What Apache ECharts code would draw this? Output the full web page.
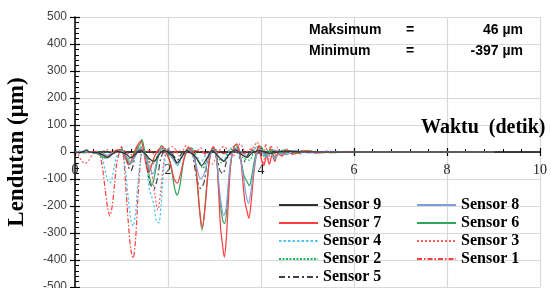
<!DOCTYPE html>
<html><head><meta charset="utf-8">
<script src="https://cdn.jsdelivr.net/npm/echarts@6/dist/echarts.min.js"></script>
<style>html,body{margin:0;padding:0;background:#fff}#c{width:551px;height:288px}</style>
</head><body><div id="c"></div>
<script>
// ---- data (time in s, deflection in µm) ----
const xTickValues = [0, 2, 4, 6, 8, 10];
const yTickValues = [-500, -400, -300, -200, -100, 0, 100, 200, 300, 400, 500];
const statLabels = ['Maksimum', 'Minimum'];
const statValues = ['46 µm', '-397 µm'];
const legendOrder = ['Sensor 9', 'Sensor 8', 'Sensor 7', 'Sensor 6', 'Sensor 4', 'Sensor 3', 'Sensor 2', 'Sensor 1', 'Sensor 5'];

const sensor1 = [[0,0],[0.1,-3],[0.2,2],[0.3,-2],[0.4,1],[0.5,-4],[0.55,-20],[0.6,-70],[0.65,-140],[0.7,-205],[0.75,-237],[0.8,-200],[0.85,-120],[0.9,-40],[0.95,-5],[1.0,20],[1.05,-30],[1.1,-150],[1.15,-270],[1.2,-360],[1.25,-393],[1.3,-330],[1.35,-180],[1.4,-50],[1.45,10],[1.5,-5],[1.6,5],[1.7,-8],[1.8,6],[1.9,-5],[2.0,8],[2.1,-4],[2.2,5],[2.4,-6],[2.6,5],[2.8,-5],[3.0,8],[3.2,-6],[3.4,10],[3.6,-8],[3.8,12],[3.9,-10],[4.0,15],[4.1,-8],[4.2,10],[4.3,-6],[4.5,6],[4.7,-4],[5.0,4],[5.5,-2],[6,0],[9,0]];
const sensor2 = [[0,0],[0.2,-3],[0.4,2],[0.6,-5],[0.8,3],[1.0,-3],[1.15,-25],[1.25,-10],[1.4,20],[1.55,-15],[1.65,-50],[1.75,-20],[1.9,15],[2.1,-20],[2.2,-50],[2.3,-15],[2.45,10],[2.65,-30],[2.75,-60],[2.85,-20],[3.0,15],[3.15,-40],[3.25,-20],[3.4,20],[3.6,-20],[3.75,-30],[3.9,20],[4.05,-15],[4.2,15],[4.35,-12],[4.5,10],[4.7,-6],[4.9,5],[5.2,-3],[5.6,2],[6,0],[9,0]];
const sensor3 = [[0,0],[0.05,-5],[0.1,-20],[0.15,-35],[0.22,-42],[0.3,-30],[0.38,-8],[0.45,3],[0.55,-5],[0.7,8],[0.85,-5],[1.0,10],[1.2,-10],[1.4,15],[1.55,-20],[1.65,-80],[1.72,-160],[1.78,-215],[1.84,-150],[1.9,-50],[1.97,5],[2.1,20],[2.25,-15],[2.4,25],[2.55,-10],[2.7,15],[2.85,-30],[2.95,-45],[3.05,-10],[3.2,20],[3.4,-15],[3.55,30],[3.7,-10],[3.85,20],[3.92,38],[4.0,-20],[4.05,-45],[4.1,30],[4.16,-30],[4.22,25],[4.28,-25],[4.36,18],[4.45,-15],[4.55,12],[4.65,-10],[4.75,8],[4.85,-8],[5.0,6],[5.2,-5],[5.4,4],[5.6,-3],[5.8,2],[6.0,-1],[7,1],[8,0],[9,0]];
const sensor4 = [[0,0],[0.1,2],[0.2,-3],[0.3,2],[0.4,-2],[0.5,3],[0.55,-5],[0.6,-30],[0.65,-70],[0.7,-105],[0.75,-115],[0.8,-95],[0.85,-50],[0.9,-15],[0.95,5],[1.0,10],[1.05,-20],[1.1,-90],[1.15,-180],[1.2,-250],[1.25,-275],[1.3,-230],[1.35,-120],[1.4,-40],[1.45,5],[1.5,-10],[1.55,-60],[1.6,-140],[1.65,-165],[1.7,-200],[1.75,-255],[1.8,-263],[1.85,-200],[1.9,-80],[1.95,-10],[2.0,10],[2.1,-10],[2.2,-50],[2.3,-20],[2.4,5],[2.6,-10],[2.7,-40],[2.8,-15],[3.0,5],[3.1,-20],[3.2,-30],[3.3,5],[3.5,10],[3.7,-15],[3.9,15],[4.1,-10],[4.3,8],[4.6,-5],[5,3],[5.5,-2],[6,0],[9,0]];
const sensor5 = [[0,0],[0.2,2],[0.4,-2],[0.6,3],[0.8,-3],[1.0,4],[1.1,-20],[1.15,-55],[1.2,-70],[1.25,-50],[1.3,-10],[1.4,5],[1.5,-10],[1.55,-60],[1.62,-120],[1.7,-135],[1.78,-90],[1.85,-20],[1.95,5],[2.1,-10],[2.2,-30],[2.3,-5],[2.5,5],[2.55,-30],[2.62,-100],[2.7,-135],[2.78,-110],[2.85,-30],[2.95,5],[3.05,-20],[3.12,-70],[3.18,-80],[3.25,-40],[3.32,-5],[3.45,5],[3.55,-25],[3.62,-40],[3.7,-15],[3.8,5],[4.0,-5],[4.3,3],[5,0],[6,0]];
const sensor6 = [[0,0],[0.1,3],[0.2,-2],[0.3,2],[0.4,-3],[0.5,-8],[0.6,-20],[0.7,-22],[0.8,-5],[0.9,5],[1.0,10],[1.1,-20],[1.18,-45],[1.25,-30],[1.32,10],[1.4,30],[1.44,46],[1.48,20],[1.55,-30],[1.6,-90],[1.66,-122],[1.72,-80],[1.8,-10],[1.86,25],[1.92,10],[2.0,-10],[2.08,-70],[2.15,-140],[2.2,-160],[2.26,-120],[2.33,-40],[2.42,10],[2.5,15],[2.58,-20],[2.63,-120],[2.68,-220],[2.73,-289],[2.78,-230],[2.84,-110],[2.9,-20],[2.97,15],[3.04,-20],[3.08,-110],[3.13,-200],[3.18,-255],[3.22,-265],[3.27,-200],[3.32,-90],[3.38,-10],[3.45,25],[3.52,10],[3.58,-40],[3.64,-90],[3.7,-110],[3.75,-125],[3.8,-90],[3.86,-30],[3.93,15],[4.0,20],[4.1,-15],[4.2,5],[4.3,-20],[4.4,0],[4.5,-10],[4.6,5],[4.8,-5],[5,3],[5.3,-2],[6,0],[9,0]];
const sensor7 = [[0,0],[0.1,-2],[0.2,3],[0.3,-2],[0.4,2],[0.5,-5],[0.6,-12],[0.7,-15],[0.8,-3],[0.9,8],[1.0,5],[1.08,-20],[1.15,-48],[1.22,-30],[1.3,10],[1.38,35],[1.42,40],[1.47,10],[1.52,-40],[1.58,-75],[1.63,-60],[1.7,-20],[1.8,10],[1.88,20],[1.95,0],[2.05,-40],[2.13,-100],[2.2,-115],[2.27,-80],[2.35,-20],[2.43,15],[2.5,10],[2.58,-30],[2.64,-130],[2.69,-230],[2.74,-280],[2.79,-220],[2.85,-100],[2.9,-20],[2.97,20],[3.04,-10],[3.08,-120],[3.13,-280],[3.17,-340],[3.21,-389],[3.25,-330],[3.3,-180],[3.35,-40],[3.42,20],[3.48,30],[3.55,-10],[3.6,-90],[3.65,-180],[3.7,-220],[3.74,-245],[3.78,-200],[3.84,-90],[3.9,-10],[3.96,25],[4.0,-20],[4.06,-50],[4.12,-15],[4.18,-45],[4.24,-10],[4.3,-35],[4.36,-5],[4.45,-15],[4.55,5],[4.7,-8],[4.9,4],[5.2,-3],[5.6,1],[6,0],[9,0]];
const sensor8 = [[0,0],[0.2,2],[0.4,-2],[0.6,-8],[0.7,-12],[0.8,-3],[1.0,3],[1.1,-15],[1.2,-40],[1.3,-15],[1.4,15],[1.5,-10],[1.6,-60],[1.68,-80],[1.75,-40],[1.85,10],[2.0,-5],[2.1,-25],[2.2,-45],[2.3,-15],[2.45,8],[2.55,-20],[2.62,-60],[2.7,-100],[2.78,-80],[2.88,-20],[2.98,10],[3.05,-30],[3.1,-130],[3.15,-200],[3.2,-235],[3.25,-210],[3.3,-110],[3.36,-20],[3.45,15],[3.55,-20],[3.62,-90],[3.68,-160],[3.73,-190],[3.78,-150],[3.85,-60],[3.92,0],[4.0,10],[4.1,-20],[4.2,-5],[4.3,-25],[4.4,-5],[4.55,-10],[4.7,5],[5.0,-3],[5.5,2],[6,0],[9,0]];
const sensor9 = [[0,0],[0.1,-2],[0.2,3],[0.25,8],[0.3,0],[0.5,-3],[0.6,-12],[0.7,-20],[0.8,-8],[0.9,2],[1.1,-8],[1.2,-22],[1.3,-8],[1.4,8],[1.5,-5],[1.6,-25],[1.7,-35],[1.8,-12],[1.9,5],[2.1,-15],[2.2,-40],[2.3,-18],[2.4,5],[2.6,-20],[2.72,-50],[2.85,-20],[2.95,5],[3.1,-20],[3.2,-35],[3.3,-12],[3.45,8],[3.6,-12],[3.7,-20],[3.8,-5],[3.95,5],[4.2,-5],[4.5,3],[5,0],[6,0],[9,0]];

// ---- styles ----
const seriesDefs = [
  { name: 'Sensor 1', data: sensor1, color: '#FF3B3B', type: [5, 2, 1.5, 2] },
  { name: 'Sensor 2', data: sensor2, color: '#1DB954', type: [2, 1.5] },
  { name: 'Sensor 3', data: sensor3, color: '#FF5A5A', type: [2, 2] },
  { name: 'Sensor 4', data: sensor4, color: '#4CC4EE', type: [2.5, 2] },
  { name: 'Sensor 5', data: sensor5, color: '#404040', type: [6, 3, 2, 3] },
  { name: 'Sensor 6', data: sensor6, color: '#2FA65A', type: 'solid' },
  { name: 'Sensor 7', data: sensor7, color: '#FF3B3B', type: 'solid' },
  { name: 'Sensor 8', data: sensor8, color: '#7F9FD6', type: 'solid' },
  { name: 'Sensor 9', data: sensor9, color: '#303030', type: 'solid' }
];

const chart = echarts.init(document.getElementById('c'), null, { renderer: 'canvas' });
const serif = 'Liberation Serif, Times New Roman, serif';
const sans = 'Liberation Sans, Arial, sans-serif';

const baseX = { type: 'value', min: xTickValues[0], max: xTickValues[xTickValues.length - 1], interval: 2 };
const baseY = { type: 'value', min: yTickValues[0], max: yTickValues[yTickValues.length - 1], interval: 100 };
const gridTop = 17, gridBottom = 1, chartH = 288;
// place x axis at y = 0 (middle of symmetric y range)
const zeroOffset = -(chartH - gridTop - gridBottom) / 2;

const option = {
  animation: false,
  backgroundColor: '#fff',
  grid: { left: 75, right: 11, top: gridTop, bottom: gridBottom, containLabel: false, outerBoundsMode: 'none' },
  xAxis: [
    Object.assign({}, baseX, {
      position: 'bottom',
      offset: zeroOffset,
      axisLine: { show: true, onZero: false, lineStyle: { color: '#000', width: 1.5 } },
      axisTick: { show: true, inside: true, length: 4, lineStyle: { color: '#000', width: 1.2 } },
      minorTick: { show: true, splitNumber: 5, length: 3, lineStyle: { color: '#000', width: 1 } },
      axisLabel: { show: true, margin: 11, fontFamily: serif, fontSize: 14, color: '#222', hideOverlap: false },
      splitLine: { show: true, lineStyle: { color: '#D9D9D9', width: 1.2 } }
    }),
    Object.assign({}, baseX, {
      position: 'bottom',
      offset: zeroOffset,
      axisLine: { show: false, onZero: false },
      axisTick: { show: true, inside: false, length: 4, lineStyle: { color: '#000', width: 1.2 } },
      axisLabel: { show: false },
      splitLine: { show: false }
    })
  ],
  yAxis: [
    Object.assign({}, baseY, {
      position: 'left',
      name: 'Lendutan (µm)',
      nameLocation: 'middle',
      nameGap: 46,
      nameRotate: 90,
      nameMoveOverlap: false,
      nameTextStyle: { fontFamily: serif, fontWeight: 'bold', fontSize: 23, color: '#000' },
      axisLine: { show: true, onZero: false, lineStyle: { color: '#000', width: 1.5 } },
      axisTick: { show: true, inside: true, length: 5, lineStyle: { color: '#000', width: 1.2 } },
      minorTick: { show: true, splitNumber: 5, length: 4, lineStyle: { color: '#000', width: 1 } },
      axisLabel: { show: true, margin: 8, fontFamily: sans, fontSize: 12, color: '#404040' },
      splitLine: { show: true, lineStyle: { color: '#D9D9D9', width: 1.2 } }
    }),
    Object.assign({}, baseY, {
      position: 'left',
      axisLine: { show: false, onZero: false },
      axisTick: { show: true, inside: false, length: 5, lineStyle: { color: '#000', width: 1.2 } },
      axisLabel: { show: false },
      splitLine: { show: false }
    })
  ],
  legend: {
    left: 278, top: 196, orient: 'horizontal', width: 290, padding: 0,
    itemGap: 0, itemWidth: 39, itemHeight: 10,
    selectedMode: false,
    itemStyle: { opacity: 0 },
    textStyle: { fontFamily: serif, fontWeight: 'bold', fontSize: 16, color: '#000', width: 93, lineHeight: 18 },
    data: legendOrder
  },
  graphic: [
    { type: 'text', left: 421, top: 118, style: { text: 'Waktu  (detik)', font: 'bold 20px ' + serif, fill: '#000' }, z: 10 },
    { type: 'text', x: 309, y: 30, style: { text: statLabels[0], font: 'bold 14px ' + sans, fill: '#000', verticalAlign: 'middle' }, z: 10 },
    { type: 'text', x: 410, y: 30, style: { text: '=', font: 'bold 14px ' + sans, fill: '#000', align: 'center', verticalAlign: 'middle' }, z: 10 },
    { type: 'text', x: 523, y: 30, style: { text: statValues[0], font: 'bold 14px ' + sans, fill: '#000', align: 'right', verticalAlign: 'middle' }, z: 10 },
    { type: 'text', x: 309, y: 51, style: { text: statLabels[1], font: 'bold 14px ' + sans, fill: '#000', verticalAlign: 'middle' }, z: 10 },
    { type: 'text', x: 410, y: 51, style: { text: '=', font: 'bold 14px ' + sans, fill: '#000', align: 'center', verticalAlign: 'middle' }, z: 10 },
    { type: 'text', x: 523, y: 51, style: { text: statValues[1], font: 'bold 14px ' + sans, fill: '#000', align: 'right', verticalAlign: 'middle' }, z: 10 }
  ],
  series: seriesDefs.map(d => ({
    name: d.name,
    type: 'line',
    xAxisIndex: 0,
    yAxisIndex: 0,
    data: d.data,
    symbol: 'none',
    smooth: 0.3,
    color: d.color,
    lineStyle: { color: d.color, width: 1.2, type: d.type },
    emphasis: { disabled: true }
  }))
};
chart.setOption(option);
</script>
</body></html>
